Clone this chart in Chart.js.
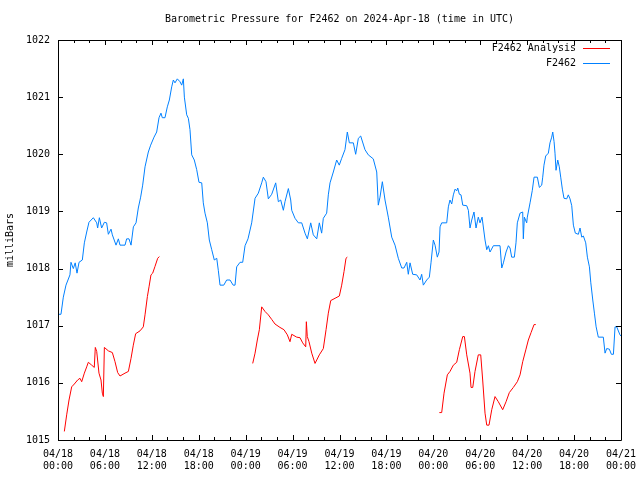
<!DOCTYPE html>
<html>
<head>
<meta charset="utf-8">
<script src="https://cdn.jsdelivr.net/npm/chart.js@4"></script>
<style>
  html, body { margin: 0; padding: 0; background: #fff; }
</style>
</head>
<body>
<canvas id="grafico" width="640" height="480"></canvas>
<script>
// hours since 04/18 00:00 UTC
const dayLabels = ["04/18", "04/19", "04/20", "04/21"];
const yTickValues = [1015, 1016, 1017, 1018, 1019, 1020, 1021, 1022];

const stationHours = [
  0, 0.38, 0.68, 1.02, 1.53, 1.66, 1.96, 2.2, 2.43, 2.69, 3.11, 3.37, 3.67, 3.96, 4.52, 4.95, 5.07, 5.29, 5.58, 5.93,
  6.22, 6.44, 6.78, 6.95, 7.42, 7.72, 7.93, 8.57, 8.78, 9.08, 9.34, 9.64, 9.98, 10.27, 10.57, 10.83, 11.13, 11.55, 11.85,
  12.28, 12.62, 12.92, 13.17, 13.34, 13.68, 13.98, 14.24, 14.54, 14.75, 14.96, 15.26, 15.6, 15.82, 16.03, 16.16, 16.46,
  16.67, 16.88, 17.1, 17.43, 17.74, 18.03, 18.38, 18.58, 18.8, 19.1, 19.35, 19.66, 19.99, 20.3, 20.5, 20.72, 21.2, 21.57,
  22.0, 22.4, 22.64, 22.85, 23.28, 23.62, 23.92, 24.3, 24.77, 25.2, 25.62, 26.05, 26.26, 26.6, 26.9, 27.33, 27.84, 28.18,
  28.48, 28.82, 29.03, 29.46, 29.76, 29.89, 30.31, 30.74, 31.17, 31.59, 31.89, 32.32, 32.65, 33.09, 33.42, 33.72, 33.93,
  34.36, 34.57, 34.79, 35.21, 35.64, 35.97, 36.28, 36.7, 37.0, 37.26, 37.77, 38.07, 38.41, 38.71, 39.26, 39.68, 40.32,
  40.76, 40.96, 41.18, 41.48, 41.82, 42.24, 42.68, 43.1, 43.52, 43.96, 44.25, 44.6, 44.8, 45.02, 45.36, 45.87, 46.3,
  46.51, 46.72, 47.15, 47.49, 47.7, 48.0, 48.22, 48.51, 48.73, 48.86, 49.07, 49.71, 49.92, 50.13, 50.35, 50.56, 50.78,
  50.99, 51.12, 51.33, 51.54, 51.76, 52.27, 52.48, 52.69, 52.91, 53.2, 53.46, 53.75, 53.97, 54.23, 54.61, 54.83, 55.04,
  55.25, 55.68, 56.53, 56.75, 56.96, 57.3, 57.6, 57.81, 58.02, 58.36, 58.57, 58.74, 59.09, 59.43, 59.51, 59.64, 59.94,
  60.02, 60.37, 60.66, 60.88, 61.3, 61.56, 61.86, 61.99, 62.15, 62.37, 62.71, 62.92, 63.14, 63.27, 63.44, 63.56, 63.69,
  63.91, 64.11, 64.29, 64.5, 64.71, 65.06, 65.26, 65.48, 65.7, 65.91, 66.16, 66.55, 66.76, 66.98, 67.19, 67.49, 67.7,
  67.96, 68.14, 68.39, 68.6, 68.82, 69.1, 69.74, 69.96, 70.17, 70.51, 70.77, 71.03, 71.24, 71.45, 71.87, 72
];
const stationValues = [
  1017.2, 1017.2, 1017.5, 1017.71, 1017.89, 1018.11, 1018.0, 1018.1, 1017.92, 1018.11, 1018.15, 1018.45, 1018.64, 1018.81,
  1018.89, 1018.8, 1018.71, 1018.89, 1018.71, 1018.81,
  1018.8, 1018.6, 1018.69, 1018.59, 1018.41, 1018.52, 1018.41, 1018.41, 1018.52, 1018.52, 1018.41, 1018.73, 1018.8,
  1019.06, 1019.25, 1019.46, 1019.78, 1020.04, 1020.16,
  1020.3, 1020.39, 1020.64, 1020.72, 1020.64, 1020.64, 1020.83, 1020.95, 1021.18, 1021.3, 1021.25, 1021.32, 1021.27,
  1021.21, 1021.32, 1021.0, 1020.69,
  1020.63, 1020.43, 1019.99, 1019.9, 1019.73, 1019.51, 1019.5, 1019.15, 1018.97, 1018.8, 1018.5, 1018.33, 1018.15,
  1018.18, 1017.97, 1017.71, 1017.71, 1017.8,
  1017.8, 1017.71, 1017.71, 1018.03, 1018.11, 1018.11, 1018.4, 1018.52, 1018.8, 1019.23, 1019.32, 1019.5, 1019.6,
  1019.52, 1019.22, 1019.3, 1019.5, 1019.17,
  1019.2, 1019.02, 1019.17, 1019.4, 1019.2, 1019.02, 1018.88, 1018.8, 1018.8, 1018.62, 1018.52, 1018.8, 1018.59,
  1018.52, 1018.8, 1018.62, 1018.88,
  1018.97, 1019.29, 1019.5, 1019.69, 1019.9, 1019.81, 1019.93, 1020.08, 1020.39, 1020.2, 1020.2, 1020.0, 1020.28,
  1020.32, 1020.08, 1019.99, 1019.92,
  1019.69, 1019.11, 1019.25, 1019.52, 1019.2, 1018.9, 1018.55, 1018.41, 1018.18, 1018.01, 1018.01, 1018.11, 1017.9,
  1018.1, 1017.9, 1017.89, 1017.8,
  1017.9, 1017.71, 1017.8, 1017.85, 1018.1, 1018.5, 1018.41, 1018.2, 1018.29, 1018.73, 1018.8, 1018.8, 1019.08,
  1019.2, 1019.13, 1019.29, 1019.39,
  1019.36, 1019.41, 1019.3, 1019.29, 1019.11, 1019.1, 1019.02, 1018.71, 1018.85, 1018.99, 1018.71, 1018.9, 1018.8,
  1018.9, 1018.5, 1018.33, 1018.4,
  1018.29, 1018.4, 1018.4, 1018.01, 1018.1, 1018.29, 1018.4, 1018.36, 1018.2, 1018.2, 1018.45, 1018.8, 1018.97,
  1018.99, 1018.52, 1018.9, 1018.8,
  1018.9, 1019.15, 1019.37, 1019.6, 1019.6, 1019.42, 1019.46, 1019.6, 1019.81, 1019.97, 1020.02, 1020.2, 1020.3,
  1020.39, 1020.22, 1020.02, 1019.72,
  1019.9, 1019.78, 1019.6, 1019.39, 1019.23, 1019.22, 1019.29, 1019.22, 1019.1, 1018.76, 1018.62, 1018.6, 1018.71,
  1018.55, 1018.57, 1018.45, 1018.2,
  1018.03, 1017.75, 1017.45, 1017.22, 1016.98, 1016.8, 1016.8, 1016.52, 1016.6, 1016.59, 1016.5, 1016.5, 1016.98,
  1016.98, 1016.84, 1016.82
];

// null = gap between analysis runs
const analysisHours = [
  0.81, 1.11, 1.41, 1.75, 2.09, 2.51, 2.81, 3.03, 3.37, 3.67, 3.88, 4.31, 4.64, 4.77, 4.95, 5.24, 5.5, 5.67, 5.8, 5.93,
  6.44, 6.95, 7.29, 7.63, 7.93, 8.57, 9.0, 9.34, 9.63, 9.93, 10.49, 10.91, 11.13, 11.43, 11.64, 11.89, 12.11, 12.41,
  12.75, 12.96,
  18,
  24.9, 25.2, 25.49, 25.75, 26.05, 26.47, 26.9, 27.33, 27.75, 28.39, 28.9, 29.33, 29.67, 29.89, 30.53, 30.95, 31.29,
  31.68, 31.76, 31.88, 32.1, 32.45, 32.87, 33.42, 33.93, 34.28, 34.57, 34.88, 35.43, 35.98, 36.28, 36.58, 36.83, 37.0,
  42,
  48.77, 49.07, 49.37, 49.79, 50.13, 50.56, 50.99, 51.33, 51.76, 51.97, 52.27, 52.69, 52.82, 53.04, 53.33, 53.75, 54.06,
  54.31, 54.61, 54.83, 55.12, 55.47, 55.89, 56.31, 56.87, 57.3, 57.72, 58.23, 58.74, 59.09, 59.43, 59.85, 60.15, 60.5,
  60.88, 61.1
];
const analysisValues = [
  1015.15, 1015.44, 1015.7, 1015.93, 1015.98, 1016.05, 1016.08, 1016.02, 1016.17, 1016.28, 1016.36, 1016.31, 1016.27,
  1016.62, 1016.55, 1016.17, 1016.05, 1015.82, 1015.76, 1016.62,
  1016.56, 1016.53, 1016.37, 1016.18, 1016.12, 1016.17, 1016.2, 1016.43, 1016.66, 1016.86, 1016.91, 1016.98, 1017.19,
  1017.51, 1017.68, 1017.89, 1017.92, 1018.04, 1018.18, 1018.21,
  null,
  1016.34, 1016.52, 1016.75, 1016.93, 1017.33, 1017.25, 1017.19, 1017.11, 1017.03, 1016.97, 1016.93, 1016.84, 1016.72,
  1016.85, 1016.8, 1016.79, 1016.7, 1016.63, 1017.07, 1016.81, 1016.72, 1016.52, 1016.34, 1016.49, 1016.6, 1016.93,
  1017.22, 1017.44, 1017.48, 1017.52, 1017.71, 1017.95, 1018.18, 1018.2,
  null,
  1015.48, 1015.48, 1015.82, 1016.14, 1016.2, 1016.31, 1016.36, 1016.58, 1016.81, 1016.81, 1016.49, 1016.17, 1015.92,
  1015.92, 1016.2, 1016.49, 1016.49, 1016.05, 1015.47, 1015.26, 1015.26, 1015.53, 1015.76, 1015.67, 1015.53, 1015.67,
  1015.83, 1015.92, 1016.02, 1016.14, 1016.37, 1016.59, 1016.75, 1016.88, 1017.02, 1017.02
];

const fonte = { family: "DejaVu Sans Mono", size: 10, weight: "normal" };

function pontos(xs, ys) {
  return xs.map((x, i) => ({ x: x, y: ys[i] }));
}

// gnuplot style frame, inward ticks and legend
const moldura = {
  id: "moldura",
  afterDraw(chart) {
    const ctx = chart.ctx;
    const a = chart.chartArea;
    const xs = chart.scales.x;
    const ys = chart.scales.y;
    ctx.save();
    ctx.strokeStyle = "#000";
    ctx.lineWidth = 1;
    ctx.beginPath();
    ctx.rect(Math.round(a.left) + 0.5, Math.round(a.top) + 0.5,
      Math.round(a.right - a.left), Math.round(a.bottom - a.top));
    for (let h = 0; h <= 72; h += 2) {
      const px = Math.round(xs.getPixelForValue(h)) + 0.5;
      const len = h % 6 === 0 ? 5 : 3;
      ctx.moveTo(px, a.bottom);
      ctx.lineTo(px, a.bottom - len);
      ctx.moveTo(px, a.top);
      ctx.lineTo(px, a.top + len);
    }
    yTickValues.forEach(v => {
      const py = Math.round(ys.getPixelForValue(v)) + 0.5;
      ctx.moveTo(a.left, py);
      ctx.lineTo(a.left + 5, py);
      ctx.moveTo(a.right, py);
      ctx.lineTo(a.right - 5, py);
    });
    ctx.stroke();

    ctx.font = "10px 'DejaVu Sans Mono'";
    ctx.textAlign = "right";
    ctx.textBaseline = "middle";
    chart.data.datasets.forEach((ds, i) => {
      const y = 48 + i * 15;
      ctx.fillStyle = "#000";
      ctx.fillText(ds.label, 576, y);
      ctx.strokeStyle = ds.borderColor;
      ctx.beginPath();
      ctx.moveTo(583, y + 0.5);
      ctx.lineTo(610, y + 0.5);
      ctx.stroke();
    });
    ctx.restore();
  }
};

new Chart(document.getElementById("grafico"), {
  type: "line",
  data: {
    datasets: [
      {
        label: "F2462 Analysis",
        data: pontos(analysisHours, analysisValues),
        borderColor: "#ff0000",
        borderWidth: 1,
        pointRadius: 0,
        spanGaps: false,
        tension: 0
      },
      {
        label: "F2462",
        data: pontos(stationHours, stationValues),
        borderColor: "#0080ff",
        borderWidth: 1,
        pointRadius: 0,
        tension: 0
      }
    ]
  },
  options: {
    responsive: false,
    animation: false,
    devicePixelRatio: 1,
    layout: { padding: { left: 0, right: 19, top: 0, bottom: 0 } },
    plugins: {
      legend: { display: false },
      tooltip: { enabled: false },
      title: {
        display: true,
        text: "Barometric Pressure for F2462 on 2024-Apr-18 (time in UTC)",
        color: "#000",
        font: fonte,
        fullSize: false,
        padding: { top: 13, bottom: 15 }
      }
    },
    scales: {
      x: {
        type: "linear",
        min: 0,
        max: 72,
        grid: { display: false, drawTicks: false },
        border: { display: false },
        afterFit: s => { s.height = 40; s.paddingRight = 0; s.paddingLeft = 0; },
        ticks: {
          stepSize: 6,
          autoSkip: false,
          maxRotation: 0,
          padding: 8,
          color: "#000",
          font: fonte,
          callback: v => {
            const hh = String(v % 24).padStart(2, "0");
            return [dayLabels[Math.floor(v / 24)], hh + ":00"];
          }
        }
      },
      y: {
        min: 1015,
        max: 1022,
        grid: { display: false, drawTicks: false },
        border: { display: false },
        afterFit: s => { s.width = 58; },
        title: { display: true, text: "milliBars", color: "#000", font: fonte, padding: 4 },
        ticks: {
          stepSize: 1,
          padding: 8,
          color: "#000",
          font: fonte,
          callback: v => v
        }
      }
    }
  },
  plugins: [moldura]
});
</script>
</body>
</html>
